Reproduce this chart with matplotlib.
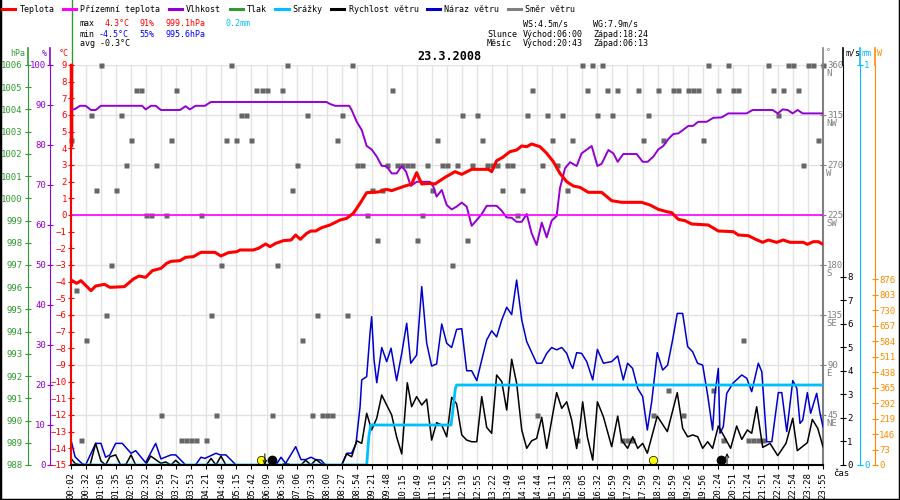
import matplotlib
matplotlib.use('Agg')
import matplotlib.pyplot as plt
import matplotlib.transforms as mtransforms
from matplotlib.lines import Line2D

plt.rcParams['font.family'] = ['DejaVu Sans Mono', 'DejaVu Sans']
plt.rcParams['font.size'] = 6.5

# ---------------- data (x = position in time-label units, 0..50) ----------------
time_labels = ['00:02', '00:32', '01:05', '01:35', '02:05', '02:32', '02:59', '03:27', '03:53',
               '04:21', '04:48', '05:15', '05:42', '06:09', '06:36', '07:06', '07:33', '08:00',
               '08:27', '08:54', '09:21', '09:48', '10:15', '10:49', '11:16', '11:52', '12:19',
               '12:55', '13:22', '13:49', '14:16', '14:44', '15:11', '15:38', '16:05', '16:32',
               '16:59', '17:29', '17:59', '18:29', '18:59', '19:26', '19:56', '20:24', '20:51',
               '21:24', '21:51', '22:24', '22:54', '23:28', '23:55']

temp_pts = [(0, -3.9), (0.38, -4.1), (0.66, -3.94), (1.33, -4.54), (1.64, -4.26), (2.22, -4.16),
            (2.59, -4.34), (3.55, -4.3), (4.15, -3.84), (4.52, -3.66), (4.96, -3.74), (5.41, -3.34),
            (5.98, -3.2), (6.36, -2.9), (6.65, -2.78), (7.25, -2.74), (7.62, -2.54), (8.13, -2.5),
            (8.64, -2.24), (9.57, -2.24), (9.97, -2.46), (10.46, -2.26), (11.02, -2.2), (11.24, -2.1),
            (12.12, -2.1), (12.46, -2.0), (12.94, -1.74), (13.23, -1.9), (13.61, -1.7), (14.12, -1.54),
            (14.63, -1.5), (14.94, -1.2), (15.25, -1.46), (15.67, -1.1), (15.96, -0.96), (16.27, -0.96),
            (16.67, -0.76), (17.22, -0.6), (17.89, -0.3), (18.33, -0.2), (18.77, 0.1), (19.22, 0.7),
            (19.66, 1.34), (20.43, 1.38), (20.99, 1.54), (21.32, 1.46), (21.76, 1.6), (22.21, 1.74),
            (22.65, 1.86), (22.98, 2.54), (23.32, 1.86), (23.87, 1.9), (24.2, 1.86), (24.87, 2.26),
            (25.53, 2.6), (25.98, 2.44), (26.64, 2.74), (27.75, 2.74), (27.97, 2.6), (28.3, 3.26),
            (28.7, 3.46), (29.19, 3.8), (29.63, 3.9), (29.97, 4.14), (30.3, 4.1), (30.63, 4.26),
            (31.18, 4.1), (31.63, 3.7), (32.07, 3.2), (32.51, 2.5), (32.96, 2.0), (33.4, 1.74),
            (33.84, 1.66), (34.4, 1.36), (35.28, 1.36), (35.95, 0.86), (36.61, 0.76), (37.94, 0.76),
            (38.5, 0.6), (39.05, 0.34), (39.61, 0.2), (39.94, 0.14), (40.38, -0.26), (40.82, -0.34),
            (41.27, -0.54), (42.37, -0.6), (43.04, -0.96), (44.04, -1.0), (44.37, -1.2), (45.03, -1.24),
            (45.48, -1.44), (45.99, -1.64), (46.36, -1.5), (46.92, -1.64), (47.36, -1.5), (47.81, -1.64),
            (48.69, -1.64), (48.96, -1.76), (49.36, -1.6), (49.69, -1.6), (50, -1.76)]

ground_temp_pts = [(0, 0.0), (50, 0.0)]

hum_pts = [(0, 88.75), (0.27, 89.0), (0.6, 89.8), (0.97, 89.8), (1.33, 88.75), (1.64, 88.75),
           (1.99, 89.8), (4.73, 89.8), (4.96, 88.9), (5.32, 89.8), (5.63, 89.8), (5.98, 88.75),
           (7.25, 88.75), (7.62, 89.7), (7.9, 88.9), (8.28, 89.8), (8.9, 89.8), (9.3, 90.75),
           (16.99, 90.75), (17.2, 90.3), (17.55, 89.8), (18.5, 89.8), (18.66, 88.75), (19.0, 85.8),
           (19.33, 83.75), (19.66, 79.75), (19.99, 78.9), (20.33, 77.1), (20.66, 74.8), (20.99, 74.7),
           (21.32, 72.9), (21.65, 72.9), (21.99, 74.75), (22.28, 73.3), (22.59, 69.75), (22.98, 70.8),
           (23.87, 70.8), (24.09, 69.6), (24.31, 67.1), (24.65, 68.75), (24.98, 65.0), (25.31, 63.9),
           (25.64, 64.6), (25.98, 65.6), (26.31, 64.6), (26.64, 59.8), (26.98, 61.25), (27.31, 62.75),
           (27.64, 64.8), (28.3, 64.8), (28.63, 63.6), (28.96, 61.9), (29.3, 61.8), (29.63, 60.8),
           (29.97, 60.8), (30.3, 62.75), (30.63, 57.9), (30.96, 55.0), (31.3, 60.6), (31.63, 56.9),
           (31.96, 61.1), (32.29, 62.25), (32.51, 69.2), (32.85, 74.2), (33.18, 75.7), (33.62, 74.75),
           (33.95, 77.9), (34.62, 79.75), (35.0, 74.75), (35.28, 75.3), (35.73, 78.75), (36.06, 77.9),
           (36.35, 75.8), (36.72, 77.75), (37.61, 77.75), (38.01, 75.8), (38.34, 75.8), (38.72, 77.1),
           (39.05, 78.9), (39.38, 79.75), (39.72, 81.5), (40.05, 82.75), (40.38, 82.9), (41.04, 84.75),
           (41.37, 84.8), (41.7, 85.8), (42.26, 85.8), (42.71, 86.8), (43.26, 86.9), (43.7, 87.9),
           (44.92, 87.9), (45.32, 88.75), (46.65, 88.75), (46.99, 87.9), (47.32, 88.9), (47.65, 88.75),
           (47.98, 87.9), (48.31, 88.75), (48.65, 87.9), (50, 87.9)]

gust_pts = [(0, 1.06), (0.27, 0.35), (0.71, 0.07), (0.97, 0), (1.64, 0.92), (1.99, 0.92), (2.3, 0.33),
            (2.59, 0.43), (2.97, 0.92), (3.41, 0.92), (3.99, 0.5), (4.3, 0.61), (4.96, 0.1), (5.63, 0.92),
            (5.98, 0.26), (6.65, 0.43), (6.96, 0.43), (7.62, 0), (8.28, 0), (8.64, 0.33), (8.9, 0.28),
            (9.64, 0.5), (9.93, 0.43), (10.3, 0.43), (10.97, 0), (13.63, 0), (13.96, 0.33), (14.27, 0.07),
            (14.94, 0.78), (15.29, 0.23), (15.6, 0.23), (15.96, 0.33), (16.27, 0.23), (16.62, 0.21),
            (16.93, 0), (18.0, 0), (18.33, 0.5), (18.66, 0.5), (18.95, 0.92), (19.22, 2.48), (19.33, 3.62),
            (19.66, 3.76), (19.88, 5.6), (19.99, 6.31), (20.15, 4.47), (20.33, 3.5), (20.66, 5.0),
            (20.99, 4.4), (21.28, 4.97), (21.65, 3.59), (21.99, 4.75), (22.32, 6.03), (22.59, 4.33),
            (22.98, 4.68), (23.32, 7.59), (23.65, 5.18), (23.98, 4.21), (24.31, 4.3), (24.65, 6.0),
            (24.98, 5.18), (25.31, 5.0), (25.64, 5.77), (25.98, 5.8), (26.31, 4.01), (26.64, 4.01),
            (26.98, 3.59), (27.31, 4.47), (27.64, 5.32), (27.97, 5.71), (28.3, 5.45), (28.64, 6.17),
            (28.97, 6.71), (29.3, 6.4), (29.63, 7.87), (29.97, 6.17), (30.3, 5.25), (30.96, 4.33),
            (31.3, 4.33), (31.63, 4.75), (31.96, 5.0), (32.29, 4.9), (32.63, 5.0), (32.96, 4.75),
            (33.18, 4.35), (33.36, 4.11), (33.62, 4.78), (33.95, 4.75), (34.29, 4.4), (34.69, 3.62),
            (35.0, 4.92), (35.4, 4.33), (35.95, 4.4), (36.35, 4.64), (36.72, 3.62), (37.01, 4.33),
            (37.34, 4.11), (37.68, 3.26), (38.01, 2.91), (38.32, 1.49), (38.61, 2.69), (38.98, 4.78),
            (39.34, 4.04), (39.67, 4.25), (40.0, 5.32), (40.31, 6.45), (40.67, 6.45), (41.0, 5.04),
            (41.33, 4.82), (41.66, 4.33), (42.0, 4.25), (42.33, 2.98), (42.66, 1.49), (42.82, 3.05),
            (43.04, 4.11), (43.15, 1.35), (43.37, 1.63), (43.6, 3.05), (44.04, 3.5), (44.6, 3.83),
            (44.93, 3.69), (45.26, 3.12), (45.7, 4.33), (45.93, 3.97), (46.26, 0.99), (46.6, 0.99),
            (47.03, 3.08), (47.26, 3.08), (47.59, 1.42), (47.99, 3.59), (48.26, 3.26), (48.47, 1.77),
            (48.65, 1.91), (48.96, 3.08), (49.18, 2.2), (49.58, 3.05), (49.8, 2.2), (50, 1.63)]

speed_pts = [(0, 0.28), (0.27, 0.07), (0.6, 0), (1.27, 0), (1.64, 0.92), (1.99, 0.17), (2.3, 0),
             (2.59, 0.35), (2.97, 0.43), (3.3, 0), (3.66, 0.03), (3.99, 0.43), (4.3, 0), (4.96, 0),
             (5.3, 0.38), (5.98, 0.07), (6.29, 0.13), (6.65, 0), (6.96, 0.2), (7.31, 0), (9.0, 0),
             (9.31, 0.28), (9.64, 0), (9.97, 0.38), (10.3, 0), (13.96, 0), (14.27, 0.07), (14.63, 0),
             (15.29, 0), (15.6, 0.2), (15.96, 0), (16.29, 0.23), (16.62, 0.07), (16.93, 0), (18.0, 0),
             (18.33, 0.47), (18.66, 0.35), (19.0, 1.03), (19.33, 0.92), (19.66, 2.2), (19.99, 1.49),
             (20.33, 1.99), (20.66, 2.98), (20.99, 2.55), (21.32, 2.13), (21.65, 1.2), (21.99, 0.47),
             (22.36, 3.5), (22.65, 2.48), (22.98, 2.91), (23.32, 2.55), (23.65, 2.8), (23.98, 1.06),
             (24.31, 1.8), (24.65, 1.7), (24.98, 1.2), (25.31, 2.88), (25.64, 2.6), (25.98, 1.28),
             (26.31, 1.06), (26.64, 0.99), (26.98, 0.99), (27.31, 2.91), (27.64, 1.6), (27.97, 1.35),
             (28.3, 3.83), (28.64, 3.55), (28.97, 2.34), (29.3, 4.5), (29.63, 3.48), (29.97, 1.49),
             (30.3, 0.71), (30.63, 1.03), (30.96, 1.13), (31.3, 2.03), (31.63, 0.71), (31.96, 1.91),
             (32.29, 3.08), (32.63, 2.41), (32.96, 2.69), (33.29, 1.91), (33.62, 0.7), (33.84, 1.63),
             (34.02, 2.69), (34.33, 1.2), (34.69, 0.21), (35.0, 2.69), (35.4, 2.05), (35.95, 0.78),
             (36.35, 2.08), (36.61, 1.06), (37.01, 0.71), (37.35, 1.2), (37.68, 0.71), (38.01, 0.92),
             (38.32, 0.5), (38.98, 2.08), (39.65, 1.42), (40.31, 3.08), (40.67, 1.56), (41.0, 1.2),
             (41.34, 1.28), (41.67, 1.2), (42.0, 0.71), (42.33, 0.99), (42.66, 0.71), (43.04, 1.66),
             (43.37, 1.28), (43.86, 0.71), (44.26, 1.66), (44.6, 1.09), (44.97, 1.49), (45.26, 1.35),
             (45.59, 2.48), (45.99, 0.75), (46.48, 0.92), (46.99, 0.4), (47.54, 0.92), (47.99, 1.99),
             (48.29, 0.61), (48.96, 0.95), (49.29, 1.94), (49.65, 1.56), (50, 0.78)]

rain_pts = [(0, 0.0), (19.66, 0.0), (19.8, 0.07), (19.93, 0.1), (25.27, 0.1), (25.4, 0.14),
            (25.55, 0.19), (25.64, 0.2), (50, 0.2)]

# wind direction, one sample every 1/3 of a label step
dir_vals = [292.5, 157.5, 22.5, 112.5, 315, 247.5, 360, 135, 180, 247.5,
            315, 270, 292.5, 337.5, 337.5, 225, 225, 270, 45, 225,
            292.5, 337.5, 22.5, 22.5, 22.5, 22.5, 225, 22.5, 135, 45,
            180, 292.5, 360, 292.5, 315, 315, 292.5, 337.5, 337.5, 337.5,
            45, 180, 337.5, 360, 247.5, 270, 112.5, 315, 45, 135,
            45, 45, 45, 292.5, 315, 135, 360, 270, 270, 225,
            247.5, 202.5, 247.5, 270, 337.5, 270, 270, 270, 270, 202.5,
            225, 270, 247.5, 292.5, 270, 270, 180, 270, 315, 202.5,
            270, 315, 292.5, 270, 270, 270, 247.5, 270, 270, 225,
            247.5, 315, 337.5, 45, 270, 315, 292.5, 270, 315, 247.5,
            292.5, 22.5, 360, 337.5, 360, 315, 360, 337.5, 315, 337.5,
            22.5, 22.5, 22.5, 337.5, 292.5, 315, 45, 337.5, 292.5, 67.5,
            337.5, 337.5, 45, 337.5, 337.5, 337.5, 292.5, 360, 67.5, 337.5,
            22.5, 360, 337.5, 337.5, 112.5, 22.5, 22.5, 22.5, 22.5, 360,
            337.5, 315, 337.5, 360, 360, 337.5, 270, 360, 360, 292.5, 360]

sun_x = [12.63, 38.67]    # Slunce východ / západ
moon_x = [13.34, 43.22]   # Měsíc západ / východ

dir_ticks = [45, 90, 135, 180, 225, 270, 315, 360]
dir_names = ['NE', 'E', 'SE', 'S', 'SW', 'W', 'NW', 'N']

legend_names = ['Teplota', 'Přízemní teplota', 'Vlhkost', 'Tlak', 'Srážky',
                'Rychlost větru', 'Náraz větru', 'Směr větru']

C_T = '#ff0000'
C_GT = '#ff00ff'
C_H = '#9400d3'
C_P = '#339933'
C_R = '#00bfff'
C_WS = '#000000'
C_WG = '#0000cc'
C_D = '#666666'
C_SUN = '#ff8c00'
legend_colors = [C_T, C_GT, C_H, C_P, C_R, C_WS, C_WG, '#808080']


def fx(px):
    return px / 900


def fy(py):
    return 1 - py / 500


def unzip(pts):
    return [p[0] for p in pts], [p[1] for p in pts]


fig = plt.figure(figsize=(9, 5), dpi=100, facecolor='white')
ax = fig.add_axes([fx(71), fy(465), 752 / 900, 400 / 500])
ax.patch.set_visible(False)

ax_dir = ax.twinx()
ax_rad = ax.twinx()
ax_wind = ax.twinx()
ax_mm = ax.twinx()
ax_hum = ax.twinx()
ax_p = ax.twinx()
for a, z in [(ax_dir, 1), (ax_rad, 1.5), (ax_wind, 2), (ax_mm, 3), (ax_hum, 4), (ax_p, 4.5), (ax, 5)]:
    a.set_zorder(z)
    for s in a.spines.values():
        s.set_visible(False)

ax.set_xlim(0, 50)
ax.set_ylim(-15, 9)

# direction axis carries the grid and squares
ax_dir.set_ylim(0, 360)
ax_dir.xaxis.set_visible(True)
ax_dir.tick_params(axis='x', bottom=False, top=False, labelbottom=False, labeltop=False)
ax_dir.grid(True, color='#e2e2e2', lw=1)
ax_dir.plot([n / 3 for n in range(len(dir_vals))], dir_vals, 's', ms=3.6, color=C_D, mec='none',
            clip_on=False)
ax_dir.spines['right'].set_visible(True)
ax_dir.spines['right'].set_color('#808080')
ax_dir.spines['right'].set_linewidth(1.5)
ax_dir.set_yticks(dir_ticks)
ax_dir.set_yticklabels([str(t) for t in dir_ticks])
ax_dir.tick_params(axis='y', direction='inout', length=4, colors='#808080', labelsize=6.5, pad=1)
blend_dir = mtransforms.blended_transform_factory(ax_dir.transAxes, ax_dir.transData)
for t, nm in zip(dir_ticks, dir_names):
    ax_dir.annotate(nm, xy=(1, t), xycoords=blend_dir, xytext=(2.2, -3.2), textcoords='offset points',
                    va='top', ha='left', color='#808080', fontsize=6.5, annotation_clip=False)

# radiation axis (orange), no series shown
ax_rad.set_ylim(0, 1884)
ax_rad.spines['right'].set_visible(True)
ax_rad.spines['right'].set_position(('axes', (875 - 71) / 752))
ax_rad.spines['right'].set_color(C_SUN)
ax_rad.set_yticks(range(0, 877, 73))
ax_rad.tick_params(axis='y', direction='inout', length=4, colors=C_SUN, labelsize=6.5, pad=1)

# wind
ax_wind.set_ylim(0, 17.02)
xg, yg = unzip(gust_pts)
ax_wind.plot(xg, yg, color=C_WG, lw=1.1)
xs, ys = unzip(speed_pts)
ax_wind.plot(xs, ys, color=C_WS, lw=1.1)
ax_wind.spines['right'].set_visible(True)
ax_wind.spines['right'].set_position(('axes', (843 - 71) / 752))
ax_wind.spines['right'].set_color('black')
ax_wind.set_yticks(range(0, 9))
ax_wind.tick_params(axis='y', direction='inout', length=4, colors='black', labelsize=6.5, pad=1)

# precipitation
ax_mm.set_ylim(0, 1)
xr, yr = unzip(rain_pts)
ax_mm.plot(xr, yr, color=C_R, lw=2)
ax_mm.spines['right'].set_visible(True)
ax_mm.spines['right'].set_position(('axes', (860 - 71) / 752))
ax_mm.spines['right'].set_color(C_R)
ax_mm.set_yticks([0, 1])
ax_mm.tick_params(axis='y', direction='inout', length=4, colors=C_R, labelsize=6.5, pad=1)

# humidity
ax_hum.set_ylim(0, 100)
xh, yh = unzip(hum_pts)
ax_hum.plot(xh, yh, color=C_H, lw=1.4)
ax_hum.yaxis.tick_left()
ax_hum.spines['left'].set_visible(True)
ax_hum.spines['left'].set_position(('axes', (50 - 71) / 752))
ax_hum.spines['left'].set_color(C_H)
ax_hum.set_yticks(range(0, 101, 10))
ax_hum.tick_params(axis='y', direction='inout', length=4, colors=C_H, labelsize=6.5, pad=1)

# pressure (axis only)
ax_p.set_ylim(988, 1006)
ax_p.yaxis.tick_left()
ax_p.spines['left'].set_visible(True)
ax_p.spines['left'].set_position(('axes', (28 - 71) / 752))
ax_p.spines['left'].set_color(C_P)
ax_p.set_yticks(range(988, 1007))
ax_p.tick_params(axis='y', direction='inout', length=4, colors=C_P, labelsize=6.5, pad=2)

# temperature
xgt, ygt = unzip(ground_temp_pts)
ax.plot(xgt, ygt, color=C_GT, lw=1.2)
xt, yt = unzip(temp_pts)
ax.plot(xt, yt, color=C_T, lw=2.2)
ax.spines['left'].set_visible(True)
ax.spines['left'].set_color(C_T)
ax.spines['left'].set_linewidth(1.5)
ax.spines['bottom'].set_visible(True)
ax.spines['bottom'].set_linewidth(1.5)
ax.set_yticks(range(-15, 10))
ax.tick_params(axis='y', direction='inout', length=4, colors=C_T, labelsize=6.5, pad=1)
ax.set_xticks(range(len(time_labels)))
ax.set_xticklabels(time_labels, rotation=90, fontsize=6.5)
ax.tick_params(axis='x', direction='out', length=3, width=0.8, pad=2)

# sun / moon markers
tb = mtransforms.blended_transform_factory(ax.transData, ax.transAxes)
ax.plot(sun_x, [0.0125] * len(sun_x), 'o', transform=tb, ms=6, mfc='#ffff00', mec='black', mew=0.5,
        clip_on=False)
ax.plot(moon_x, [0.0125] * len(moon_x), 'o', transform=tb, ms=6, color='black', clip_on=False)
ax.annotate('', xy=(moon_x[0] - 0.45, 0.0), xytext=(moon_x[0] - 0.45, 0.028), xycoords=tb,
            arrowprops=dict(arrowstyle='->', lw=0.7, shrinkA=0, shrinkB=0))
ax.annotate('', xy=(moon_x[1] + 0.4, 0.03), xytext=(moon_x[1] + 0.4, 0.0), xycoords=tb,
            arrowprops=dict(arrowstyle='->', lw=0.7, shrinkA=0, shrinkB=0))

# axis lines continuing up to the unit labels
for px, c in [(28, C_P), (50, C_H), (823, '#808080'), (843, 'black'), (860, C_R), (875, C_SUN)]:
    fig.add_artist(Line2D([fx(px)] * 2, [fy(48), fy(65)], color=c, lw=1.2, transform=fig.transFigure))
fig.add_artist(Line2D([fx(71.5)] * 2, [fy(0), fy(143)], color=C_P, lw=1, transform=fig.transFigure))
fig.add_artist(Line2D([fx(70.5)] * 2, [fy(65), fy(145)], color=C_T, lw=2.5, transform=fig.transFigure))

# units
for px, txt, c, ha in [(25, 'hPa', C_P, 'right'), (47, '%', C_H, 'right'), (69, '°C', C_T, 'right'),
                       (826, '°', '#808080', 'left'), (845, 'm/s', 'black', 'left'),
                       (862, 'mm', C_R, 'left'), (877, 'W', C_SUN, 'left')]:
    fig.text(fx(px), fy(53), txt, color=c, ha=ha, va='center', fontsize=6)
fig.text(fx(833), fy(474), 'čas', ha='left', va='center', fontsize=6.5)

# legend
handles = [Line2D([], [], color=c, lw=2.2) for c in legend_colors]
fig.legend(handles, legend_names, loc='upper left', bbox_to_anchor=(fx(2), fy(5)), ncol=8,
           frameon=False, fontsize=6, handlelength=1.6, handletextpad=0.5, columnspacing=1.0,
           borderpad=0, borderaxespad=0)

# statistics block
info_left = [(80, 24, 'max', 'black'), (105, 24, '4.3°C', C_T), (139, 24, '91%', C_T),
             (165, 24, '999.1hPa', C_T), (226, 24, '0.2mm', C_R),
             (80, 34, 'min', 'black'), (99, 34, '-4.5°C', '#0000ff'), (139, 34, '55%', '#0000ff'),
             (165, 34, '995.6hPa', '#0000ff'), (80, 44, 'avg -0.3°C', 'black'),
             (523, 24, 'WS:4.5m/s', 'black'), (593, 24, 'WG:7.9m/s', 'black'),
             (487, 34, 'Slunce', 'black'), (523, 34, 'Východ:06:00', 'black'), (593, 34, 'Západ:18:24', 'black'),
             (487, 44, 'Měsíc', 'black'), (523, 44, 'Východ:20:43', 'black'), (593, 44, 'Západ:06:13', 'black')]
for px, py, txt, c in info_left:
    fig.text(fx(px), fy(py), txt, color=c, ha='left', va='center', fontsize=6)

fig.text(fx(449), fy(57), '23.3.2008', ha='center', va='center', fontsize=8.5, fontweight='bold')

# frame
fig.add_artist(Line2D([0, 0, 1, 1], [1, 0, 0, 1], color='black', lw=2.5, transform=fig.transFigure))

fig.savefig('out.png', dpi=100)
